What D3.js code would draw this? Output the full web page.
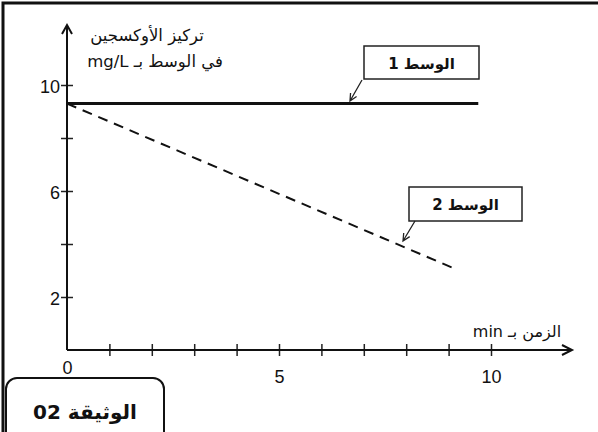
<!DOCTYPE html>
<html>
<head>
<meta charset="utf-8">
<script src="https://cdn.jsdelivr.net/npm/d3@7"></script>
<style>
  body { margin: 0; background: #fff; }
  svg { display: block; }
</style>
</head>
<body>
<svg id="chart" width="598" height="432"></svg>
<script>
// data
var times1 = [0, 9.7];
var medium1 = [9.3, 9.3];
var times2 = [0, 9.1];
var medium2 = [9.3, 3.1];
var yTicks = [2, 4, 6, 8, 10];
var yLabels = [2, 6, 10];
var xTicks = [0, 1, 2, 3, 4, 5, 6, 7, 8, 9, 10];
var xLabels = [0, 5, 10];
var yTitle = ["تركيز الأوكسجين", "في الوسط بـ mg/L"];
var xTitle = "الزمن بـ min";
var seriesNames = ["الوسط 1", "الوسط 2"];
var docLabel = "الوثيقة 02";

var svg = d3.select("#chart");
var arFont = "'DejaVu Sans', sans-serif";
var numFont = "Arial, 'Liberation Sans', sans-serif";

// frame (top + left only)
svg.append("path").attr("d", "M3,432 V3 H598")
  .attr("fill", "none").attr("stroke", "#111").attr("stroke-width", 3);

var x = d3.scaleLinear().domain([0, 10]).range([67, 491]);
var y = d3.scaleLinear().domain([0, 10]).range([350, 85]);

// y axis
var yAx = svg.append("g").attr("transform", "translate(" + x(0) + ",0)")
  .call(d3.axisLeft(y).tickValues(yTicks).tickSize(6)
    .tickFormat(function(d) { return yLabels.indexOf(d) >= 0 ? d : ""; }));
yAx.select(".domain").remove();
yAx.selectAll(".tick line").attr("x1", -6).attr("x2", 6).attr("stroke", "#222").attr("stroke-width", 1.5);
yAx.selectAll(".tick text").attr("x", -7).attr("dy", "0.4em")
  .style("font-family", numFont).style("font-size", "18px").attr("fill", "#111");

// x axis
var xAx = svg.append("g").attr("transform", "translate(0," + y(0) + ")")
  .call(d3.axisBottom(x).tickValues(xTicks).tickSize(6)
    .tickFormat(function(d) { return xLabels.indexOf(d) >= 0 ? d : ""; }));
xAx.select(".domain").remove();
xAx.selectAll(".tick line").attr("y1", -6).attr("y2", 6).attr("stroke", "#222").attr("stroke-width", 1.5)
  .filter(function(d) { return d === 0; }).remove();
xAx.selectAll(".tick text").attr("y", function(d) { return d === 0 ? 11 : 20; })
  .style("font-family", numFont).style("font-size", "18px").attr("fill", "#111");

// axis lines with arrows
svg.append("path")
  .attr("d", "M" + x(0) + "," + y(0) + " V25 M" + (x(0) - 5) + ",34 L" + x(0) + ",25 L" + (x(0) + 5) + ",34")
  .attr("fill", "none").attr("stroke", "#111").attr("stroke-width", 2);
svg.append("path")
  .attr("d", "M" + x(0) + "," + y(0) + " H572 M562,345 L572,350 L562,355")
  .attr("fill", "none").attr("stroke", "#111").attr("stroke-width", 2);

// axis titles
svg.append("text").attr("x", 147).attr("y", 41).attr("text-anchor", "middle").attr("direction", "rtl")
  .style("font-family", arFont).style("font-size", "16.5px").attr("fill", "#111").text(yTitle[0]);
svg.append("text").attr("x", 155).attr("y", 67).attr("text-anchor", "middle").attr("direction", "rtl")
  .style("font-family", arFont).style("font-size", "16.5px").attr("fill", "#111").text(yTitle[1]);
svg.append("text").attr("x", 517).attr("y", 337).attr("text-anchor", "middle").attr("direction", "rtl")
  .style("font-family", arFont).style("font-size", "16px").attr("fill", "#111").text(xTitle);

// lines
var line = d3.line().x(function(d) { return x(d[0]); }).y(function(d) { return y(d[1]); });
svg.append("path").datum(d3.zip(times1, medium1)).attr("d", line)
  .attr("fill", "none").attr("stroke", "#111").attr("stroke-width", 3);
svg.append("path").datum(d3.zip(times2, medium2)).attr("d", line)
  .attr("fill", "none").attr("stroke", "#111").attr("stroke-width", 2).attr("stroke-dasharray", "10,7");

// callout boxes
var boxes = [
  {name: seriesNames[0], x0: 364, y0: 46, w: 115, h: 33, ax: [362, 80, 350, 101]},
  {name: seriesNames[1], x0: 409, y0: 187, w: 113, h: 34, ax: [415, 221, 403, 241]}
];
boxes.forEach(function(b) {
  svg.append("rect").attr("x", b.x0).attr("y", b.y0).attr("width", b.w).attr("height", b.h)
    .attr("fill", "#fff").attr("stroke", "#222").attr("stroke-width", 1.5);
  svg.append("text").attr("x", b.x0 + b.w / 2).attr("y", b.y0 + b.h / 2 + 6)
    .attr("text-anchor", "middle").attr("direction", "rtl")
    .style("font-family", arFont).style("font-weight", "bold").style("font-size", "15px")
    .attr("fill", "#111").text(b.name);
  var a = b.ax;
  var ang = Math.atan2(a[3] - a[1], a[2] - a[0]);
  var h1 = [a[2] - 8 * Math.cos(ang - 0.45), a[3] - 8 * Math.sin(ang - 0.45)];
  var h2 = [a[2] - 8 * Math.cos(ang + 0.45), a[3] - 8 * Math.sin(ang + 0.45)];
  svg.append("path")
    .attr("d", "M" + a[0] + "," + a[1] + " L" + a[2] + "," + a[3] +
      " M" + h1[0] + "," + h1[1] + " L" + a[2] + "," + a[3] + " L" + h2[0] + "," + h2[1])
    .attr("fill", "none").attr("stroke", "#222").attr("stroke-width", 1.3);
});

// document label
svg.append("rect").attr("x", 6).attr("y", 378).attr("width", 158).attr("height", 70).attr("rx", 11)
  .attr("fill", "#fff").attr("stroke", "#111").attr("stroke-width", 2);
svg.append("text").attr("x", 85).attr("y", 419).attr("text-anchor", "middle").attr("direction", "rtl")
  .style("font-family", arFont).style("font-weight", "bold").style("font-size", "20px")
  .attr("fill", "#111").text(docLabel);
</script>
</body>
</html>
